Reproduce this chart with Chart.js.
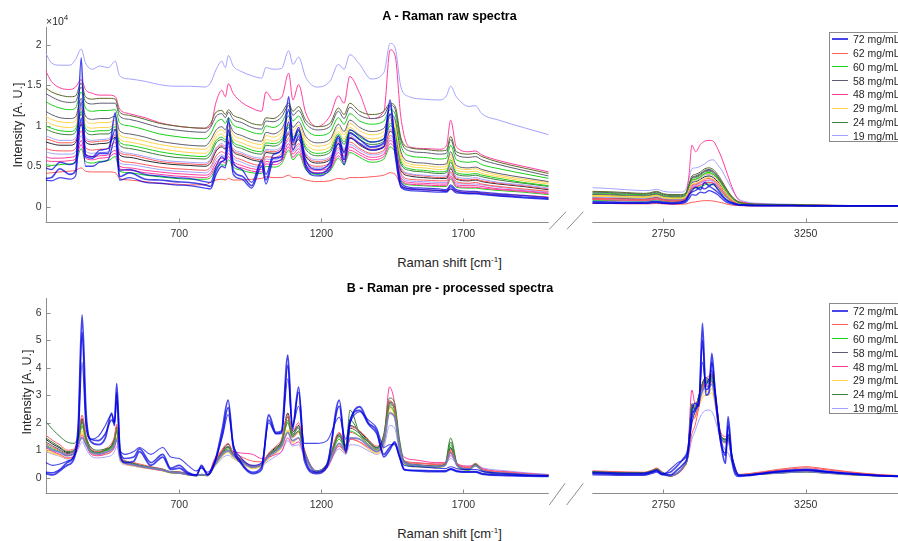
<!DOCTYPE html>
<html lang="en">
<head>
<meta charset="UTF-8">
<title>Raman spectra</title>
<script src="https://cdn.jsdelivr.net/npm/chart.js@4.4.1/dist/chart.umd.min.js"></script>
<style>
  html, body { margin: 0; padding: 0; background: #fff; }
  body { width: 898px; height: 541px; position: relative; overflow: hidden;
         font-family: "Liberation Sans", Arial, Helvetica, sans-serif; color: #262626; }
  canvas { position: absolute; }
  .lbl { position: absolute; white-space: nowrap; transform: translate(-50%, -50%); line-height: 1; }
  .title { font-weight: bold; font-size: 12.5px; color: #000; }
  .xlab { font-size: 13px; }
  .ylab { font-size: 12.5px; transform: translate(-50%, -50%) rotate(-90deg); }
  sup { font-size: 8px; vertical-align: 5px; line-height: 0; }
  .legend { position: absolute; left: 829px; width: 92px; background: #fff;
            border: 1px solid #8a8a8a; box-sizing: border-box; }
  .legend .ln { position: absolute; left: 2px; width: 16px; }
  .legend .tx { position: absolute; left: 23px; font-size: 10.5px; line-height: 12px; white-space: nowrap; }
</style>
</head>
<body>

<canvas id="rawLow" width="562" height="245" style="left:0;top:0"></canvas>
<canvas id="rawHigh" width="318" height="245" style="left:580px;top:0"></canvas>
<canvas id="procLow" width="562" height="245" style="left:0;top:270px"></canvas>
<canvas id="procHigh" width="318" height="245" style="left:580px;top:270px"></canvas>

<div class="lbl title" style="left:449.5px;top:16px">A - Raman raw spectra</div>
<div class="lbl" style="left:46px;top:14.5px;transform:none;font-size:10.5px;line-height:12px">&times;10<sup>4</sup></div>
<div class="lbl ylab" style="left:18px;top:124.5px">Intensity [A. U.]</div>
<div class="lbl xlab" style="left:449.5px;top:262px">Raman shift [cm<sup>-1</sup>]</div>

<div class="lbl title" style="left:450px;top:288px">B - Raman pre - processed spectra</div>
<div class="lbl ylab" style="left:27px;top:391.5px">Intensity [A. U.]</div>
<div class="lbl xlab" style="left:449.5px;top:533px">Raman shift [cm<sup>-1</sup>]</div>

<!-- axis break marks -->
<svg width="898" height="541" style="position:absolute;left:0;top:0;pointer-events:none">
  <g stroke="#8c8c8c" stroke-width="1" fill="none">
    <line x1="549.3" y1="229.3" x2="566" y2="211.7"/>
    <line x1="567" y1="229.3" x2="583.3" y2="211.7"/>
    <line x1="549.3" y1="505" x2="565" y2="483.3"/>
    <line x1="566.7" y1="505" x2="583.3" y2="483.3"/>
  </g>
</svg>

<div id="legendA" class="legend" style="top:31.7px;height:110px"></div>
<div id="legendB" class="legend" style="top:302.7px;height:111.3px"></div>

<script>
// concentration groups
const concLabels = ['72 mg/mL', '62 mg/mL', '60 mg/mL', '58 mg/mL', '48 mg/mL', '29 mg/mL', '24 mg/mL', '19 mg/mL'];
const concColors = ['rgba(0,0,225,0.72)', '#ff5c5c', '#19d019', '#5e5e72', '#ff3d9e', '#ffd24d', '#3f7f3f', '#a3a3ff'];
const concWidths = [2, 1, 1, 1, 1, 1, 1, 1];

// Raman shift grids [cm-1]
const shiftA1 = [230, 250, 280, 315, 335, 355, 370, 395, 420, 450, 475, 490, 525, 580, 630, 685, 735, 790, 810, 830,
  850, 862, 873, 890, 920, 955, 990, 1005, 1030, 1060, 1085, 1100, 1120, 1145, 1185, 1230, 1260, 1280, 1300, 1335,
  1375, 1420, 1442, 1460, 1480, 1510, 1560, 1615, 1640, 1655, 1675, 1720, 1742, 1765, 1825, 1910, 2000];
const shiftA2 = [2500, 2560, 2620, 2680, 2700, 2725, 2750, 2780, 2810, 2830, 2840, 2850, 2863, 2880, 2895, 2910,
  2925, 2940, 2955, 2970, 2990, 3010, 3040, 3100, 3200, 3300, 3400, 3500, 3575];
const shiftB1 = [230, 255, 280, 305, 330, 345, 358, 372, 390, 415, 440, 462, 472, 480, 492, 510, 540, 560, 600, 642,
  670, 700, 730, 760, 778, 800, 825, 852, 872, 890, 915, 958, 990, 1015, 1040, 1060, 1082, 1098, 1120, 1140,
  1182, 1220, 1263, 1286, 1301, 1335, 1365, 1395, 1420, 1440, 1458, 1475, 1492, 1530, 1600, 1635, 1655, 1680, 1720, 1742,
  1770, 1850, 1930, 2000];
const shiftB2 = [2500, 2560, 2620, 2680, 2710, 2726, 2745, 2773, 2800, 2820, 2835, 2850, 2861, 2875, 2887, 2899,
  2910, 2920, 2932, 2950, 2968, 2977, 2991, 3015, 3050, 3100, 3150, 3200, 3253, 3300, 3400, 3500, 3575];

// tick marks
const rawYTicks = [0, 0.5, 1, 1.5, 2];
const procYTicks = [0, 1, 2, 3, 4, 5, 6];
const lowXTicks = [700, 1200, 1700];
const highXTicks = [2750, 3250];

// raw intensities (x 10^4), low range
const rawBlueALo = [0.35, 0.36, 0.47, 0.40, 0.44, 1.84, 0.62, 0.60, 0.66, 0.66, 1.16, 0.37, 0.42, 0.34, 0.33, 0.31, 0.30, 0.27, 0.25, 0.45,
  0.56, 0.60, 1.10, 0.45, 0.38, 0.26, 0.55, 0.33, 0.60, 0.62, 1.36, 0.80, 0.95, 0.52, 0.41, 0.50, 0.85, 0.58, 0.91, 0.83,
  0.74, 0.79, 1.32, 0.70, 0.26, 0.22, 0.21, 0.20, 0.19, 0.25, 0.19, 0.17, 0.17, 0.16, 0.14, 0.12, 0.10];
const rawBlueBLo = [0.48, 0.46, 0.55, 0.52, 0.56, 1.30, 0.65, 0.62, 0.70, 0.72, 0.95, 0.45, 0.46, 0.40, 0.38, 0.36, 0.35, 0.31, 0.30, 0.50,
  0.62, 0.58, 0.95, 0.55, 0.46, 0.30, 0.58, 0.40, 0.64, 0.70, 1.20, 0.82, 0.98, 0.58, 0.46, 0.55, 0.88, 0.66, 0.95, 0.88,
  0.80, 0.84, 1.25, 0.78, 0.30, 0.24, 0.23, 0.22, 0.21, 0.27, 0.21, 0.19, 0.19, 0.18, 0.16, 0.14, 0.11];
const rawBlueCLo = [0.33, 0.32, 0.36, 0.34, 0.38, 1.10, 0.50, 0.50, 0.55, 0.58, 0.85, 0.33, 0.36, 0.30, 0.29, 0.27, 0.26, 0.23, 0.22, 0.40,
  0.50, 0.48, 0.80, 0.40, 0.34, 0.23, 0.50, 0.28, 0.55, 0.58, 1.05, 0.70, 0.88, 0.48, 0.38, 0.46, 0.78, 0.52, 0.85, 0.78,
  0.70, 0.74, 1.15, 0.62, 0.24, 0.20, 0.19, 0.18, 0.18, 0.22, 0.17, 0.16, 0.16, 0.15, 0.13, 0.11, 0.09];
const rawOliveLo = [1.47, 1.42, 1.38, 1.36, 1.37, 1.53, 1.36, 1.33, 1.34, 1.34, 1.33, 1.17, 1.13, 1.08, 1.03, 1.00, 0.98, 0.97, 1.03, 1.17,
  1.19, 1.14, 1.20, 1.13, 1.09, 1.03, 1.01, 1.10, 1.09, 1.16, 1.28, 1.18, 1.24, 1.07, 0.99, 1.03, 1.22, 1.14, 1.28, 1.18,
  1.14, 1.18, 1.28, 1.24, 0.85, 0.73, 0.71, 0.69, 0.70, 0.87, 0.68, 0.65, 0.66, 0.62, 0.55, 0.48, 0.41];
const rawSlateLo = [1.40, 1.36, 1.31, 1.29, 1.30, 1.48, 1.30, 1.27, 1.28, 1.28, 1.28, 1.12, 1.08, 1.03, 0.98, 0.95, 0.93, 0.92, 0.98, 1.12,
  1.15, 1.10, 1.17, 1.08, 1.04, 0.98, 0.96, 1.06, 1.05, 1.11, 1.25, 1.13, 1.19, 1.03, 0.95, 0.99, 1.18, 1.09, 1.23, 1.13,
  1.09, 1.13, 1.26, 1.20, 0.82, 0.69, 0.67, 0.65, 0.66, 0.83, 0.64, 0.61, 0.62, 0.58, 0.52, 0.45, 0.38];
const rawGreenLo = [1.30, 1.26, 1.22, 1.20, 1.22, 1.42, 1.22, 1.18, 1.19, 1.19, 1.20, 1.04, 1.00, 0.95, 0.90, 0.87, 0.85, 0.84, 0.90, 1.04,
  1.08, 1.03, 1.10, 1.01, 0.97, 0.92, 0.90, 1.00, 0.98, 1.04, 1.18, 1.06, 1.12, 0.96, 0.88, 0.92, 1.10, 1.02, 1.15, 1.06,
  1.02, 1.06, 1.20, 1.14, 0.76, 0.63, 0.61, 0.59, 0.60, 0.76, 0.58, 0.55, 0.56, 0.52, 0.47, 0.41, 0.35];
const rawGrayLo = [1.18, 1.14, 1.10, 1.09, 1.11, 1.34, 1.12, 1.08, 1.09, 1.09, 1.12, 0.94, 0.90, 0.86, 0.81, 0.78, 0.76, 0.75, 0.82, 0.95,
  0.99, 0.95, 1.04, 0.93, 0.88, 0.83, 0.81, 0.92, 0.90, 0.96, 1.12, 0.98, 1.05, 0.87, 0.79, 0.83, 1.02, 0.93, 1.07, 0.98,
  0.93, 0.97, 1.14, 1.07, 0.68, 0.56, 0.54, 0.52, 0.53, 0.68, 0.51, 0.48, 0.49, 0.46, 0.41, 0.36, 0.31];
const rawGold2Lo = [1.12, 1.08, 1.05, 1.04, 1.06, 1.28, 1.07, 1.03, 1.04, 1.04, 1.07, 0.89, 0.85, 0.81, 0.77, 0.74, 0.72, 0.71, 0.77, 0.91,
  0.95, 0.91, 1.00, 0.89, 0.84, 0.79, 0.77, 0.88, 0.86, 0.92, 1.08, 0.94, 1.01, 0.83, 0.75, 0.79, 0.98, 0.89, 1.03, 0.94,
  0.89, 0.93, 1.10, 1.03, 0.64, 0.53, 0.51, 0.49, 0.50, 0.65, 0.48, 0.46, 0.47, 0.44, 0.39, 0.34, 0.30];
const rawYellowLo = [1.06, 1.02, 0.99, 0.98, 1.00, 1.22, 1.01, 0.97, 0.98, 0.98, 1.02, 0.84, 0.80, 0.76, 0.72, 0.69, 0.67, 0.66, 0.72, 0.86,
  0.90, 0.86, 0.95, 0.84, 0.79, 0.74, 0.72, 0.83, 0.81, 0.87, 1.04, 0.89, 0.96, 0.78, 0.70, 0.74, 0.93, 0.84, 0.98, 0.89,
  0.84, 0.88, 1.06, 0.98, 0.60, 0.50, 0.48, 0.46, 0.47, 0.61, 0.45, 0.43, 0.44, 0.41, 0.37, 0.32, 0.28];
const rawLime2Lo = [1.00, 0.97, 0.94, 0.93, 0.96, 1.18, 0.97, 0.93, 0.94, 0.94, 0.99, 0.80, 0.76, 0.72, 0.68, 0.65, 0.63, 0.62, 0.68, 0.82,
  0.86, 0.83, 0.92, 0.80, 0.75, 0.70, 0.68, 0.79, 0.78, 0.83, 1.01, 0.86, 0.93, 0.74, 0.66, 0.70, 0.90, 0.80, 0.95, 0.86,
  0.80, 0.84, 1.03, 0.94, 0.56, 0.47, 0.45, 0.43, 0.44, 0.58, 0.42, 0.40, 0.41, 0.39, 0.35, 0.30, 0.26];
const rawDkGreenLo = [0.96, 0.93, 0.90, 0.89, 0.92, 1.15, 0.93, 0.89, 0.90, 0.90, 0.96, 0.76, 0.72, 0.68, 0.64, 0.61, 0.60, 0.59, 0.64, 0.79,
  0.83, 0.80, 0.89, 0.77, 0.72, 0.67, 0.65, 0.76, 0.75, 0.80, 0.98, 0.83, 0.90, 0.71, 0.63, 0.67, 0.87, 0.77, 0.92, 0.83,
  0.77, 0.81, 1.00, 0.91, 0.53, 0.45, 0.43, 0.41, 0.42, 0.55, 0.40, 0.38, 0.39, 0.37, 0.33, 0.29, 0.25];
const rawLavLo = [0.88, 0.85, 0.82, 0.82, 0.85, 1.08, 0.86, 0.82, 0.83, 0.84, 0.90, 0.70, 0.66, 0.62, 0.58, 0.56, 0.55, 0.54, 0.59, 0.73,
  0.78, 0.75, 0.84, 0.72, 0.67, 0.62, 0.60, 0.71, 0.70, 0.75, 0.93, 0.79, 0.86, 0.66, 0.58, 0.62, 0.82, 0.72, 0.88, 0.79,
  0.73, 0.77, 0.96, 0.87, 0.49, 0.41, 0.39, 0.38, 0.38, 0.51, 0.37, 0.35, 0.36, 0.34, 0.30, 0.27, 0.23];
const rawCoralLo = [0.84, 0.82, 0.79, 0.79, 0.82, 1.05, 0.83, 0.80, 0.81, 0.82, 0.88, 0.67, 0.64, 0.60, 0.56, 0.54, 0.53, 0.52, 0.57, 0.71,
  0.76, 0.73, 0.82, 0.70, 0.65, 0.60, 0.58, 0.69, 0.68, 0.73, 0.92, 0.78, 0.85, 0.64, 0.56, 0.60, 0.80, 0.70, 0.86, 0.77,
  0.71, 0.75, 0.94, 0.85, 0.47, 0.40, 0.38, 0.36, 0.37, 0.49, 0.35, 0.33, 0.34, 0.32, 0.29, 0.26, 0.22];
const rawBlackLo = [0.80, 0.78, 0.76, 0.76, 0.79, 1.02, 0.80, 0.77, 0.78, 0.79, 0.86, 0.64, 0.61, 0.57, 0.54, 0.52, 0.51, 0.50, 0.54, 0.69,
  0.74, 0.71, 0.80, 0.68, 0.63, 0.58, 0.56, 0.67, 0.66, 0.71, 0.90, 0.76, 0.83, 0.62, 0.54, 0.58, 0.78, 0.68, 0.85, 0.76,
  0.70, 0.74, 0.93, 0.84, 0.45, 0.38, 0.36, 0.35, 0.35, 0.47, 0.34, 0.32, 0.33, 0.31, 0.28, 0.25, 0.21];
const rawRedLo = [0.72, 0.70, 0.69, 0.69, 0.72, 0.94, 0.73, 0.70, 0.71, 0.72, 0.80, 0.58, 0.55, 0.52, 0.49, 0.47, 0.46, 0.45, 0.49, 0.63,
  0.68, 0.66, 0.74, 0.63, 0.58, 0.53, 0.51, 0.62, 0.61, 0.66, 0.85, 0.71, 0.78, 0.57, 0.50, 0.54, 0.73, 0.63, 0.80, 0.72,
  0.66, 0.70, 0.88, 0.79, 0.41, 0.34, 0.33, 0.32, 0.32, 0.43, 0.31, 0.29, 0.30, 0.28, 0.25, 0.22, 0.19];
const rawLav2Lo = [0.68, 0.66, 0.65, 0.65, 0.68, 0.88, 0.69, 0.66, 0.67, 0.68, 0.75, 0.54, 0.52, 0.49, 0.46, 0.44, 0.43, 0.42, 0.46, 0.59,
  0.64, 0.62, 0.70, 0.60, 0.55, 0.50, 0.49, 0.59, 0.58, 0.63, 0.82, 0.68, 0.75, 0.55, 0.48, 0.52, 0.70, 0.61, 0.77, 0.70,
  0.64, 0.68, 0.85, 0.76, 0.39, 0.32, 0.31, 0.30, 0.30, 0.41, 0.29, 0.28, 0.28, 0.27, 0.24, 0.21, 0.18];
const rawPinkLo = [0.62, 0.60, 0.60, 0.61, 0.63, 0.82, 0.64, 0.62, 0.63, 0.64, 0.70, 0.50, 0.48, 0.45, 0.43, 0.41, 0.40, 0.39, 0.42, 0.55,
  0.60, 0.58, 0.66, 0.56, 0.51, 0.47, 0.46, 0.56, 0.55, 0.60, 0.78, 0.65, 0.72, 0.52, 0.45, 0.49, 0.67, 0.58, 0.74, 0.67,
  0.61, 0.65, 0.82, 0.73, 0.36, 0.30, 0.29, 0.28, 0.28, 0.38, 0.27, 0.26, 0.26, 0.25, 0.22, 0.20, 0.17];
const rawRose2Lo = [0.57, 0.56, 0.56, 0.57, 0.59, 0.77, 0.60, 0.58, 0.60, 0.61, 0.66, 0.47, 0.45, 0.42, 0.40, 0.38, 0.37, 0.36, 0.39, 0.51,
  0.56, 0.54, 0.62, 0.52, 0.48, 0.44, 0.43, 0.53, 0.52, 0.56, 0.74, 0.61, 0.68, 0.49, 0.42, 0.46, 0.63, 0.55, 0.70, 0.64,
  0.58, 0.62, 0.78, 0.69, 0.34, 0.28, 0.27, 0.26, 0.26, 0.36, 0.25, 0.24, 0.24, 0.23, 0.21, 0.19, 0.16];
const rawGreen2Lo = [0.52, 0.51, 0.52, 0.53, 0.55, 0.72, 0.56, 0.54, 0.56, 0.57, 0.62, 0.44, 0.42, 0.39, 0.37, 0.35, 0.34, 0.34, 0.36, 0.48,
  0.52, 0.51, 0.58, 0.49, 0.45, 0.42, 0.41, 0.50, 0.49, 0.53, 0.70, 0.58, 0.65, 0.46, 0.40, 0.44, 0.60, 0.52, 0.67, 0.61,
  0.55, 0.59, 0.74, 0.66, 0.32, 0.27, 0.26, 0.25, 0.25, 0.34, 0.24, 0.23, 0.23, 0.22, 0.20, 0.18, 0.15];
const rawRedBottomLo = [0.41, 0.42, 0.43, 0.44, 0.45, 0.48, 0.44, 0.43, 0.43, 0.43, 0.42, 0.35, 0.33, 0.31, 0.29, 0.28, 0.27, 0.27, 0.30, 0.33,
  0.34, 0.33, 0.35, 0.33, 0.33, 0.34, 0.35, 0.37, 0.36, 0.36, 0.39, 0.36, 0.36, 0.33, 0.31, 0.32, 0.35, 0.34, 0.36, 0.36,
  0.37, 0.39, 0.42, 0.40, 0.27, 0.22, 0.21, 0.20, 0.20, 0.22, 0.19, 0.18, 0.18, 0.17, 0.15, 0.14, 0.12];
const rawPinkTopLo = [1.68, 1.55, 1.47, 1.45, 1.48, 1.57, 1.45, 1.40, 1.38, 1.38, 1.36, 1.21, 1.15, 1.10, 1.04, 1.00, 0.98, 0.97, 1.00, 1.30,
  1.44, 1.36, 1.52, 1.40, 1.29, 1.22, 1.18, 1.42, 1.32, 1.35, 1.65, 1.32, 1.51, 1.16, 0.99, 1.12, 1.37, 1.28, 1.61, 1.40,
  1.09, 1.18, 1.94, 1.86, 1.10, 0.74, 0.72, 0.71, 0.75, 1.07, 0.74, 0.68, 0.69, 0.64, 0.57, 0.50, 0.43];
const rawLavTopLo = [1.90, 1.78, 1.75, 1.75, 1.82, 1.95, 1.78, 1.70, 1.74, 1.72, 1.80, 1.62, 1.58, 1.55, 1.51, 1.49, 1.49, 1.48, 1.53, 1.70,
  1.80, 1.72, 1.87, 1.74, 1.67, 1.62, 1.59, 1.72, 1.70, 1.71, 1.93, 1.76, 1.85, 1.60, 1.48, 1.55, 1.76, 1.70, 1.88, 1.76,
  1.58, 1.66, 2.02, 1.96, 1.48, 1.36, 1.33, 1.32, 1.37, 1.49, 1.36, 1.24, 1.25, 1.15, 1.07, 0.98, 0.89];

// raw intensities (x 10^4), high range
const rawBlueAHi = [0.05, 0.05, 0.045, 0.045, 0.05, 0.06, 0.045, 0.04, 0.05, 0.08, 0.14, 0.20, 0.24, 0.21, 0.30, 0.26, 0.28, 0.22, 0.15, 0.09, 0.05, 0.03, 0.02, 0.015, 0.015, 0.01, 0.01, 0.01, 0.01];
const rawBlueBHi = [0.065, 0.06, 0.055, 0.055, 0.06, 0.07, 0.055, 0.05, 0.06, 0.09, 0.15, 0.18, 0.20, 0.24, 0.22, 0.25, 0.22, 0.18, 0.13, 0.08, 0.05, 0.03, 0.02, 0.015, 0.015, 0.01, 0.01, 0.01, 0.01];
const rawBlueCHi = [0.045, 0.04, 0.04, 0.04, 0.045, 0.05, 0.04, 0.035, 0.04, 0.06, 0.10, 0.15, 0.14, 0.18, 0.17, 0.20, 0.18, 0.15, 0.10, 0.06, 0.035, 0.02, 0.015, 0.01, 0.01, 0.01, 0.01, 0.01, 0.01];
const rawOliveHi = [0.19, 0.185, 0.175, 0.165, 0.17, 0.19, 0.16, 0.15, 0.15, 0.18, 0.28, 0.38, 0.40, 0.43, 0.47, 0.48, 0.46, 0.40, 0.32, 0.23, 0.13, 0.07, 0.04, 0.03, 0.025, 0.02, 0.015, 0.01, 0.01];
const rawSlateHi = [0.18, 0.175, 0.165, 0.158, 0.162, 0.18, 0.152, 0.142, 0.142, 0.17, 0.27, 0.36, 0.38, 0.41, 0.45, 0.46, 0.44, 0.38, 0.30, 0.22, 0.12, 0.065, 0.038, 0.028, 0.022, 0.017, 0.012, 0.01, 0.01];
const rawGreenHi = [0.17, 0.165, 0.155, 0.15, 0.155, 0.17, 0.145, 0.135, 0.135, 0.16, 0.25, 0.33, 0.34, 0.37, 0.41, 0.42, 0.40, 0.35, 0.28, 0.20, 0.11, 0.06, 0.035, 0.025, 0.02, 0.015, 0.01, 0.01, 0.01];
const rawGrayHi = [0.16, 0.155, 0.145, 0.14, 0.145, 0.16, 0.135, 0.125, 0.125, 0.16, 0.27, 0.36, 0.37, 0.40, 0.44, 0.45, 0.43, 0.37, 0.29, 0.20, 0.11, 0.06, 0.035, 0.025, 0.02, 0.015, 0.01, 0.01, 0.01];
const rawGold2Hi = [0.14, 0.135, 0.128, 0.122, 0.128, 0.142, 0.118, 0.108, 0.108, 0.14, 0.24, 0.32, 0.33, 0.36, 0.40, 0.41, 0.39, 0.34, 0.26, 0.18, 0.10, 0.055, 0.032, 0.022, 0.017, 0.012, 0.01, 0.01, 0.01];
const rawYellowHi = [0.13, 0.125, 0.12, 0.115, 0.12, 0.135, 0.11, 0.10, 0.10, 0.13, 0.21, 0.28, 0.29, 0.32, 0.35, 0.36, 0.34, 0.30, 0.23, 0.16, 0.09, 0.05, 0.03, 0.02, 0.015, 0.01, 0.01, 0.01, 0.01];
const rawLime2Hi = [0.135, 0.13, 0.122, 0.118, 0.122, 0.138, 0.112, 0.104, 0.104, 0.14, 0.25, 0.33, 0.34, 0.37, 0.41, 0.42, 0.40, 0.35, 0.27, 0.18, 0.10, 0.052, 0.03, 0.02, 0.015, 0.01, 0.01, 0.01, 0.01];
const rawDkGreenHi = [0.15, 0.145, 0.135, 0.13, 0.135, 0.15, 0.125, 0.115, 0.115, 0.15, 0.26, 0.35, 0.36, 0.39, 0.43, 0.44, 0.42, 0.36, 0.28, 0.19, 0.10, 0.055, 0.03, 0.02, 0.015, 0.01, 0.01, 0.01, 0.01];
const rawLavHi = [0.12, 0.115, 0.11, 0.105, 0.11, 0.125, 0.10, 0.095, 0.095, 0.13, 0.23, 0.31, 0.32, 0.35, 0.39, 0.40, 0.38, 0.33, 0.26, 0.18, 0.10, 0.05, 0.03, 0.02, 0.015, 0.01, 0.01, 0.01, 0.01];
const rawCoralHi = [0.105, 0.10, 0.095, 0.09, 0.095, 0.11, 0.088, 0.08, 0.08, 0.115, 0.20, 0.27, 0.28, 0.31, 0.34, 0.35, 0.33, 0.29, 0.22, 0.15, 0.085, 0.045, 0.028, 0.02, 0.015, 0.01, 0.01, 0.01, 0.01];
const rawBlackHi = [0.11, 0.105, 0.10, 0.095, 0.10, 0.115, 0.09, 0.085, 0.085, 0.12, 0.22, 0.30, 0.31, 0.34, 0.37, 0.38, 0.36, 0.31, 0.24, 0.16, 0.09, 0.05, 0.03, 0.02, 0.015, 0.01, 0.01, 0.01, 0.01];
const rawRedHi = [0.09, 0.085, 0.08, 0.078, 0.08, 0.095, 0.075, 0.07, 0.07, 0.10, 0.17, 0.23, 0.24, 0.27, 0.29, 0.30, 0.29, 0.25, 0.19, 0.13, 0.07, 0.04, 0.025, 0.02, 0.015, 0.01, 0.01, 0.01, 0.01];
const rawLav2Hi = [0.095, 0.09, 0.085, 0.083, 0.085, 0.10, 0.08, 0.075, 0.075, 0.105, 0.18, 0.25, 0.26, 0.29, 0.31, 0.32, 0.31, 0.26, 0.20, 0.14, 0.075, 0.042, 0.027, 0.02, 0.015, 0.01, 0.01, 0.01, 0.01];
const rawPinkHi = [0.10, 0.095, 0.09, 0.088, 0.09, 0.105, 0.085, 0.08, 0.08, 0.11, 0.19, 0.26, 0.27, 0.30, 0.32, 0.33, 0.32, 0.27, 0.21, 0.14, 0.08, 0.045, 0.03, 0.02, 0.015, 0.01, 0.01, 0.01, 0.01];
const rawRose2Hi = [0.09, 0.086, 0.081, 0.079, 0.081, 0.095, 0.076, 0.071, 0.071, 0.10, 0.17, 0.24, 0.25, 0.27, 0.29, 0.30, 0.29, 0.25, 0.19, 0.13, 0.072, 0.04, 0.026, 0.019, 0.014, 0.01, 0.01, 0.01, 0.01];
const rawGreen2Hi = [0.08, 0.077, 0.073, 0.07, 0.073, 0.085, 0.068, 0.063, 0.063, 0.09, 0.16, 0.22, 0.23, 0.25, 0.27, 0.28, 0.27, 0.23, 0.18, 0.12, 0.065, 0.035, 0.022, 0.018, 0.013, 0.01, 0.01, 0.01, 0.01];
const rawRedBottomHi = [0.04, 0.04, 0.035, 0.035, 0.035, 0.04, 0.035, 0.03, 0.03, 0.035, 0.045, 0.055, 0.06, 0.07, 0.075, 0.075, 0.07, 0.06, 0.05, 0.035, 0.02, 0.015, 0.01, 0.01, 0.01, 0.005, 0.005, 0.005, 0.005];
const rawPinkTopHi = [0.15, 0.14, 0.13, 0.125, 0.13, 0.16, 0.12, 0.10, 0.10, 0.16, 0.40, 0.76, 0.68, 0.77, 0.81, 0.82, 0.81, 0.72, 0.60, 0.45, 0.25, 0.10, 0.05, 0.03, 0.02, 0.02, 0.01, 0.01, 0.01];
const rawLavTopHi = [0.235, 0.225, 0.21, 0.20, 0.20, 0.215, 0.19, 0.18, 0.18, 0.22, 0.35, 0.47, 0.48, 0.50, 0.53, 0.57, 0.58, 0.52, 0.45, 0.35, 0.22, 0.11, 0.06, 0.04, 0.03, 0.02, 0.015, 0.01, 0.01];

// pre-processed intensities, low range
const procBlueALo = [0.15, 0.10, 0.25, 0.45, 0.70, 2.00, 5.92, 2.35, 1.30, 1.20, 1.45, 2.35, 1.90, 3.42, 0.85, 0.55, 0.60, 0.95, 0.45, 0.75,
  0.30, 0.35, 0.15, 0.08, 0.45, 0.10, 0.55, 1.80, 2.82, 1.10, 0.55, 0.15, 0.30, 2.28, 1.65, 1.70, 4.46, 1.73, 3.29, 0.64,
  0.15, 0.40, 2.82, 0.90, 2.00, 2.58, 2.00, 1.70, 0.76, 1.00, 1.30, 0.80, 0.30, 0.25, 0.22, 0.22, 0.30, 0.22, 0.20, 0.20,
  0.12, 0.08, 0.06, 0.05];
const procBlueBLo = [0.20, 0.18, 0.30, 0.55, 0.80, 1.80, 5.30, 2.10, 1.40, 1.35, 1.60, 2.10, 2.00, 3.10, 0.95, 0.70, 0.75, 1.05, 0.55, 0.85,
  0.35, 0.45, 0.20, 0.10, 0.40, 0.12, 0.60, 1.60, 2.55, 1.20, 0.60, 0.20, 0.40, 2.10, 1.60, 1.65, 4.10, 1.85, 3.10, 0.80,
  0.20, 0.50, 2.60, 1.00, 2.10, 2.45, 1.95, 1.60, 0.85, 1.10, 1.25, 0.75, 0.28, 0.27, 0.25, 0.25, 0.32, 0.24, 0.22, 0.22,
  0.14, 0.10, 0.07, 0.06];
const procBlueCLo = [0.55, 0.45, 0.50, 0.60, 0.80, 1.50, 4.20, 1.80, 1.40, 1.50, 1.90, 2.30, 2.00, 2.80, 1.00, 0.85, 0.95, 1.10, 0.85, 1.10,
  0.75, 0.70, 0.45, 0.25, 0.35, 0.20, 0.55, 1.50, 2.30, 1.20, 0.75, 0.45, 0.55, 2.00, 1.60, 1.60, 3.60, 1.90, 2.60, 1.25,
  1.25, 1.35, 2.20, 1.40, 2.00, 2.40, 2.10, 1.80, 1.10, 1.20, 1.20, 0.75, 0.45, 0.40, 0.35, 0.33, 0.40, 0.32, 0.30, 0.30,
  0.22, 0.15, 0.10, 0.08];
const procDkGreenLo = [2.04, 1.75, 1.50, 1.30, 1.25, 1.50, 2.00, 1.45, 1.10, 1.00, 1.05, 1.15, 1.35, 1.70, 0.80, 0.60, 0.52, 0.46, 0.38, 0.30,
  0.22, 0.20, 0.14, 0.10, 0.12, 0.10, 0.55, 0.90, 1.10, 0.85, 0.65, 0.40, 0.48, 0.80, 1.00, 1.25, 2.10, 1.50, 1.70, 0.95,
  0.25, 0.50, 1.50, 1.15, 2.46, 1.60, 1.30, 1.10, 1.60, 2.90, 2.70, 1.40, 0.60, 0.48, 0.42, 0.50, 1.44, 0.45, 0.32, 0.50,
  0.25, 0.16, 0.10, 0.08];
const procDkGreen2Lo = [1.45, 1.28, 1.12, 0.95, 1.00, 1.42, 2.10, 1.42, 1.00, 0.93, 1.00, 1.15, 1.42, 1.85, 0.80, 0.58, 0.50, 0.44, 0.37, 0.29,
  0.20, 0.19, 0.12, 0.08, 0.10, 0.08, 0.50, 0.92, 1.12, 0.84, 0.64, 0.39, 0.49, 0.84, 1.05, 1.32, 2.25, 1.58, 1.85, 0.98,
  0.22, 0.46, 1.55, 1.15, 2.10, 1.62, 1.32, 1.08, 1.50, 2.65, 2.50, 1.25, 0.57, 0.46, 0.41, 0.48, 1.30, 0.43, 0.31, 0.48,
  0.24, 0.15, 0.10, 0.08];
const procRedLo = [1.55, 1.35, 1.20, 1.00, 1.05, 1.55, 2.28, 1.55, 1.05, 0.95, 1.05, 1.25, 1.50, 1.95, 0.85, 0.62, 0.55, 0.50, 0.40, 0.32,
  0.22, 0.22, 0.14, 0.09, 0.12, 0.09, 0.60, 1.05, 1.25, 0.90, 0.70, 0.42, 0.52, 0.90, 1.15, 1.40, 2.30, 1.70, 2.00, 1.05,
  0.25, 0.50, 1.65, 1.20, 1.85, 1.70, 1.40, 1.15, 1.55, 2.80, 2.50, 1.20, 0.60, 0.52, 0.48, 0.52, 1.00, 0.48, 0.38, 0.52,
  0.30, 0.20, 0.13, 0.10];
const procRed2Lo = [1.25, 1.10, 0.98, 0.84, 0.92, 1.30, 1.85, 1.32, 0.95, 0.88, 0.95, 1.08, 1.30, 1.65, 0.74, 0.55, 0.48, 0.43, 0.36, 0.28,
  0.20, 0.19, 0.12, 0.09, 0.11, 0.09, 0.55, 1.00, 1.10, 0.92, 0.78, 0.60, 0.58, 0.82, 1.00, 1.22, 2.00, 1.45, 1.65, 0.92,
  0.22, 0.44, 1.40, 1.05, 1.65, 1.50, 1.22, 1.02, 1.40, 2.55, 2.35, 1.12, 0.62, 0.55, 0.50, 0.50, 0.95, 0.46, 0.36, 0.48,
  0.28, 0.19, 0.13, 0.09];
const procGreenLo = [1.20, 1.05, 0.95, 0.80, 0.90, 1.35, 1.90, 1.35, 0.95, 0.90, 0.98, 1.10, 1.35, 1.75, 0.75, 0.55, 0.47, 0.42, 0.35, 0.27,
  0.18, 0.17, 0.11, 0.07, 0.09, 0.07, 0.45, 0.85, 1.05, 0.80, 0.62, 0.38, 0.48, 0.80, 1.00, 1.25, 2.00, 1.50, 1.70, 0.90,
  0.20, 0.42, 1.40, 1.05, 1.70, 1.50, 1.20, 1.00, 1.35, 2.60, 2.30, 1.05, 0.52, 0.42, 0.38, 0.45, 1.20, 0.40, 0.28, 0.45,
  0.22, 0.14, 0.09, 0.07];
const procGrayLo = [1.30, 1.15, 1.02, 0.88, 0.95, 1.40, 2.05, 1.40, 0.98, 0.92, 1.00, 1.12, 1.38, 1.80, 0.78, 0.57, 0.50, 0.44, 0.37, 0.29,
  0.20, 0.19, 0.12, 0.08, 0.10, 0.08, 0.50, 0.95, 1.15, 0.85, 0.66, 0.40, 0.50, 0.85, 1.05, 1.30, 2.20, 1.55, 1.80, 0.95,
  0.22, 0.45, 1.50, 1.10, 1.80, 1.60, 1.28, 1.05, 1.45, 2.70, 2.45, 1.15, 0.55, 0.45, 0.40, 0.46, 1.05, 0.42, 0.30, 0.47,
  0.23, 0.15, 0.10, 0.08];
const procPinkLo = [1.10, 0.95, 0.85, 0.72, 0.80, 1.15, 1.55, 1.20, 0.85, 0.80, 0.85, 0.95, 1.10, 1.35, 0.70, 0.52, 0.45, 0.40, 0.33, 0.25,
  0.18, 0.16, 0.10, 0.08, 0.10, 0.10, 0.70, 0.95, 1.00, 0.95, 0.90, 0.85, 0.70, 0.75, 0.85, 0.95, 1.45, 1.20, 1.30, 0.80,
  0.18, 0.35, 1.15, 0.95, 1.40, 1.30, 1.10, 0.95, 1.40, 3.30, 2.70, 1.20, 0.75, 0.65, 0.55, 0.55, 0.80, 0.50, 0.42, 0.48,
  0.32, 0.22, 0.15, 0.10];
const procYellowLo = [1.05, 0.92, 0.82, 0.70, 0.78, 1.20, 1.70, 1.25, 0.88, 0.82, 0.88, 1.00, 1.20, 1.50, 0.68, 0.50, 0.44, 0.39, 0.32, 0.25,
  0.17, 0.16, 0.10, 0.07, 0.09, 0.07, 0.42, 0.80, 0.95, 0.72, 0.55, 0.33, 0.42, 0.70, 0.90, 1.10, 1.75, 1.30, 1.45, 0.80,
  0.20, 0.38, 1.20, 0.90, 1.45, 1.30, 1.05, 0.88, 1.20, 2.40, 2.15, 1.00, 0.50, 0.40, 0.36, 0.42, 0.95, 0.38, 0.27, 0.42,
  0.21, 0.14, 0.09, 0.07];
const procYellow2Lo = [0.98, 0.88, 0.80, 0.70, 0.78, 1.18, 1.62, 1.22, 0.86, 0.80, 0.86, 0.96, 1.15, 1.42, 0.66, 0.49, 0.43, 0.38, 0.32, 0.25,
  0.17, 0.16, 0.10, 0.07, 0.09, 0.07, 0.42, 0.78, 0.92, 0.72, 0.56, 0.35, 0.44, 0.72, 0.90, 1.08, 1.70, 1.28, 1.42, 0.80,
  0.20, 0.38, 1.15, 0.90, 1.40, 1.28, 1.05, 0.90, 1.25, 2.50, 2.25, 1.05, 0.52, 0.42, 0.38, 0.43, 0.90, 0.40, 0.29, 0.43,
  0.22, 0.15, 0.10, 0.07];
const procBlackLo = [1.40, 1.22, 1.08, 0.92, 0.98, 1.45, 2.15, 1.45, 1.00, 0.94, 1.02, 1.18, 1.45, 1.85, 0.80, 0.58, 0.51, 0.45, 0.38, 0.30,
  0.21, 0.20, 0.13, 0.09, 0.11, 0.09, 0.52, 1.00, 1.22, 0.88, 0.68, 0.42, 0.52, 0.88, 1.10, 1.35, 2.35, 1.65, 1.90, 1.00,
  0.24, 0.47, 1.60, 1.18, 1.90, 1.68, 1.35, 1.10, 1.50, 2.75, 2.55, 1.20, 0.57, 0.47, 0.42, 0.48, 1.10, 0.44, 0.32, 0.49,
  0.24, 0.16, 0.11, 0.08];
const procSlateLo = [1.15, 1.00, 0.92, 0.80, 0.88, 1.25, 1.45, 1.20, 0.92, 0.86, 0.92, 1.02, 1.18, 1.40, 0.72, 0.54, 0.47, 0.42, 0.35, 0.28,
  0.20, 0.18, 0.12, 0.09, 0.11, 0.09, 0.48, 0.85, 0.98, 0.80, 0.62, 0.38, 0.48, 0.78, 0.95, 1.15, 1.65, 1.35, 1.45, 0.88,
  0.22, 0.42, 1.25, 1.00, 1.45, 1.40, 1.15, 0.95, 1.30, 2.35, 2.20, 1.10, 0.55, 0.46, 0.40, 0.45, 0.90, 0.42, 0.31, 0.44,
  0.24, 0.16, 0.11, 0.08];
const procLavLo = [0.95, 0.85, 0.78, 0.68, 0.75, 1.05, 1.30, 1.05, 0.78, 0.72, 0.75, 0.82, 0.95, 1.15, 0.60, 0.47, 0.42, 0.38, 0.32, 0.26,
  0.20, 0.18, 0.13, 0.10, 0.12, 0.10, 0.40, 0.72, 0.82, 0.70, 0.55, 0.36, 0.42, 0.62, 0.78, 0.95, 1.35, 1.15, 1.20, 0.75,
  0.25, 0.40, 1.05, 0.85, 1.20, 1.15, 0.98, 0.85, 1.10, 1.90, 1.80, 0.95, 0.60, 0.55, 0.50, 0.50, 0.70, 0.48, 0.42, 0.45,
  0.35, 0.25, 0.17, 0.12];

// pre-processed intensities, high range
const procBlueAHi = [0.15, 0.14, 0.12, 0.12, 0.20, 0.25, 0.12, 0.10, 0.30, 0.50, 0.80, 2.40, 2.70, 2.60, 5.61, 3.00, 3.10, 4.52, 3.00, 1.40, 0.52, 2.22, 0.60, 0.05, 0.08, 0.15, 0.22, 0.27, 0.30, 0.25, 0.15, 0.08, 0.05];
const procBlueBHi = [0.20, 0.18, 0.16, 0.16, 0.22, 0.28, 0.15, 0.20, 0.45, 0.70, 1.00, 2.20, 2.50, 2.80, 5.00, 3.20, 3.30, 4.20, 3.10, 1.50, 0.80, 1.90, 0.70, 0.08, 0.10, 0.17, 0.23, 0.27, 0.29, 0.25, 0.16, 0.09, 0.06];
const procBlueCHi = [0.10, 0.09, 0.08, 0.08, 0.15, 0.20, 0.10, 0.30, 0.55, 0.65, 0.90, 2.00, 2.40, 2.90, 4.20, 3.40, 3.60, 3.90, 3.00, 1.30, 0.90, 1.60, 0.80, 0.10, 0.10, 0.15, 0.20, 0.24, 0.26, 0.22, 0.14, 0.08, 0.05];
const procDkGreenHi = [0.22, 0.20, 0.18, 0.18, 0.26, 0.32, 0.20, 0.07, 0.18, 0.40, 0.80, 2.70, 2.60, 3.00, 3.40, 3.60, 3.50, 3.70, 3.00, 1.60, 1.40, 1.45, 0.70, 0.10, 0.12, 0.15, 0.18, 0.21, 0.23, 0.20, 0.12, 0.07, 0.05];
const procDkGreen2Hi = [0.20, 0.19, 0.17, 0.17, 0.25, 0.31, 0.19, 0.06, 0.17, 0.40, 0.80, 2.55, 2.50, 2.95, 3.30, 3.50, 3.40, 3.55, 2.90, 1.55, 1.38, 1.45, 0.70, 0.10, 0.11, 0.14, 0.17, 0.20, 0.22, 0.19, 0.12, 0.07, 0.05];
const procRedHi = [0.25, 0.23, 0.21, 0.20, 0.28, 0.35, 0.22, 0.06, 0.15, 0.35, 0.70, 1.60, 1.90, 2.60, 3.30, 3.60, 3.70, 3.80, 3.10, 1.70, 1.50, 1.55, 0.75, 0.12, 0.15, 0.22, 0.30, 0.36, 0.40, 0.35, 0.22, 0.12, 0.08];
const procRed2Hi = [0.22, 0.21, 0.19, 0.18, 0.26, 0.33, 0.20, 0.07, 0.16, 0.36, 0.72, 2.00, 2.20, 2.75, 3.20, 3.45, 3.50, 3.60, 2.95, 1.60, 1.40, 1.45, 0.70, 0.11, 0.14, 0.20, 0.27, 0.32, 0.36, 0.31, 0.20, 0.11, 0.07];
const procGreenHi = [0.18, 0.17, 0.15, 0.15, 0.24, 0.30, 0.18, 0.06, 0.16, 0.38, 0.75, 2.50, 2.45, 2.90, 3.30, 3.50, 3.45, 3.60, 2.95, 1.55, 1.35, 1.50, 0.68, 0.09, 0.11, 0.14, 0.17, 0.20, 0.22, 0.19, 0.12, 0.07, 0.05];
const procGrayHi = [0.17, 0.16, 0.15, 0.15, 0.23, 0.29, 0.17, 0.06, 0.17, 0.40, 0.78, 2.60, 2.50, 2.95, 3.35, 3.55, 3.45, 3.65, 2.95, 1.55, 1.40, 1.45, 0.70, 0.09, 0.11, 0.14, 0.17, 0.20, 0.22, 0.19, 0.12, 0.07, 0.05];
const procPinkHi = [0.20, 0.19, 0.17, 0.17, 0.25, 0.31, 0.19, 0.07, 0.15, 0.38, 0.90, 3.19, 2.70, 2.90, 3.20, 3.40, 3.35, 3.50, 2.85, 1.50, 1.30, 1.40, 0.65, 0.10, 0.12, 0.16, 0.20, 0.24, 0.27, 0.23, 0.14, 0.08, 0.06];
const procYellowHi = [0.16, 0.15, 0.14, 0.14, 0.21, 0.27, 0.16, 0.06, 0.15, 0.34, 0.70, 2.20, 2.20, 2.60, 2.90, 3.00, 3.00, 3.10, 2.60, 1.40, 1.25, 1.30, 0.62, 0.08, 0.10, 0.13, 0.16, 0.19, 0.21, 0.18, 0.11, 0.07, 0.05];
const procYellow2Hi = [0.15, 0.14, 0.13, 0.13, 0.20, 0.26, 0.15, 0.06, 0.15, 0.34, 0.72, 2.30, 2.30, 2.70, 3.00, 3.15, 3.10, 3.25, 2.70, 1.45, 1.28, 1.35, 0.64, 0.09, 0.10, 0.13, 0.16, 0.19, 0.21, 0.18, 0.11, 0.07, 0.05];
const procBlackHi = [0.19, 0.18, 0.16, 0.16, 0.24, 0.30, 0.18, 0.06, 0.17, 0.40, 0.80, 2.65, 2.55, 3.00, 3.45, 3.65, 3.55, 3.75, 3.05, 1.60, 1.40, 1.50, 0.72, 0.10, 0.11, 0.14, 0.17, 0.20, 0.22, 0.19, 0.12, 0.07, 0.05];
const procSlateHi = [0.15, 0.14, 0.13, 0.13, 0.21, 0.27, 0.15, 0.07, 0.18, 0.40, 0.78, 2.40, 2.40, 2.80, 3.15, 3.35, 3.30, 3.40, 2.80, 1.50, 1.30, 1.40, 0.68, 0.10, 0.11, 0.14, 0.17, 0.20, 0.22, 0.19, 0.12, 0.07, 0.05];
const procLavHi = [0.14, 0.13, 0.12, 0.12, 0.19, 0.25, 0.14, 0.08, 0.20, 0.40, 0.70, 1.40, 1.70, 2.10, 2.35, 2.45, 2.46, 2.40, 2.10, 1.40, 1.00, 0.90, 0.55, 0.12, 0.12, 0.15, 0.18, 0.21, 0.23, 0.20, 0.13, 0.08, 0.06];

// series tables: conc = index into concLabels; first entries end up on top
const rawSeries = [
  { conc: 0, lo: rawBlueALo, hi: rawBlueAHi, w: 1.6 },
  { conc: 0, lo: rawBlueBLo, hi: rawBlueBHi, w: 1.3 },
  { conc: 0, lo: rawBlueCLo, hi: rawBlueCHi, w: 1.3 },
  { conc: 6, lo: rawOliveLo, hi: rawOliveHi, color: '#5b6b2a' },
  { conc: 3, lo: rawSlateLo, hi: rawSlateHi },
  { conc: 2, lo: rawGreenLo, hi: rawGreenHi },
  { conc: 3, lo: rawGrayLo, hi: rawGrayHi },
  { conc: 5, lo: rawGold2Lo, hi: rawGold2Hi },
  { conc: 5, lo: rawYellowLo, hi: rawYellowHi },
  { conc: 2, lo: rawLime2Lo, hi: rawLime2Hi },
  { conc: 6, lo: rawDkGreenLo, hi: rawDkGreenHi },
  { conc: 7, lo: rawLavLo, hi: rawLavHi },
  { conc: 1, lo: rawCoralLo, hi: rawCoralHi },
  { conc: 3, lo: rawBlackLo, hi: rawBlackHi, color: '#262630' },
  { conc: 1, lo: rawRedLo, hi: rawRedHi },
  { conc: 7, lo: rawLav2Lo, hi: rawLav2Hi },
  { conc: 4, lo: rawPinkLo, hi: rawPinkHi },
  { conc: 4, lo: rawRose2Lo, hi: rawRose2Hi },
  { conc: 2, lo: rawGreen2Lo, hi: rawGreen2Hi },
  { conc: 1, lo: rawRedBottomLo, hi: rawRedBottomHi },
  { conc: 4, lo: rawPinkTopLo, hi: rawPinkTopHi },
  { conc: 7, lo: rawLavTopLo, hi: rawLavTopHi }
];
const procSeries = [
  { conc: 0, lo: procBlueALo, hi: procBlueAHi, w: 1.8 },
  { conc: 0, lo: procBlueBLo, hi: procBlueBHi, w: 1.6 },
  { conc: 0, lo: procBlueCLo, hi: procBlueCHi, w: 1.1 },
  { conc: 7, lo: procSlateLo, hi: procSlateHi, w: 1.8, color: 'rgba(120,120,205,0.9)' },
  { conc: 6, lo: procDkGreenLo, hi: procDkGreenHi },
  { conc: 1, lo: procRedLo, hi: procRedHi },
  { conc: 6, lo: procDkGreen2Lo, hi: procDkGreen2Hi },
  { conc: 2, lo: procGreenLo, hi: procGreenHi },
  { conc: 3, lo: procGrayLo, hi: procGrayHi },
  { conc: 1, lo: procRed2Lo, hi: procRed2Hi },
  { conc: 4, lo: procPinkLo, hi: procPinkHi },
  { conc: 5, lo: procYellowLo, hi: procYellowHi },
  { conc: 5, lo: procYellow2Lo, hi: procYellow2Hi },
  { conc: 3, lo: procBlackLo, hi: procBlackHi, color: '#1e1e24' },
  { conc: 7, lo: procLavLo, hi: procLavHi }
];

const tickFont = { family: '"Liberation Sans", Arial, Helvetica, sans-serif', size: 10.5 };
const tickColor = '#333';

// MATLAB-style axes: plain axis lines with short inward ticks
const axisLines = {
  id: 'axisLines',
  beforeDatasetsDraw(chart, args, opts) {
    const { ctx, chartArea: a, scales } = chart;
    ctx.save();
    ctx.strokeStyle = '#8c8c8c';
    ctx.lineWidth = 1;
    ctx.beginPath();
    const yb = Math.round(a.bottom) + 0.5;
    ctx.moveTo(a.left, yb);
    ctx.lineTo(a.right, yb);
    opts.xTicks.forEach(v => {
      const x = Math.round(scales.x.getPixelForValue(v)) + 0.5;
      ctx.moveTo(x, yb);
      ctx.lineTo(x, yb - 4);
    });
    if (opts.yTicks) {
      const xl = Math.round(a.left) + 0.5;
      ctx.moveTo(xl, Math.round(a.top));
      ctx.lineTo(xl, yb);
      opts.yTicks.forEach(v => {
        const y = Math.round(scales.y.getPixelForValue(v)) + 0.5;
        ctx.moveTo(xl, y);
        ctx.lineTo(xl + 4, y);
      });
    }
    ctx.stroke();
    ctx.restore();
  }
};

function spectrumChart(id, shift, series, part, cfg) {
  const datasets = series.map(s => ({
    data: shift.map((x, i) => ({ x: x, y: s[part][i] })),
    borderColor: s.color || concColors[s.conc],
    borderWidth: s.w || concWidths[s.conc],
    pointRadius: 0,
    fill: false,
    cubicInterpolationMode: 'monotone'
  }));
  const showY = !!cfg.yTicks;
  return new Chart(document.getElementById(id), {
    type: 'line',
    data: { datasets },
    options: {
      responsive: false,
      animation: false,
      devicePixelRatio: 1,
      events: [],
      layout: { padding: cfg.pad },
      plugins: {
        legend: { display: false },
        tooltip: { enabled: false },
        axisLines: { xTicks: cfg.xTicks, yTicks: cfg.yTicks }
      },
      scales: {
        x: {
          type: 'linear', min: cfg.x[0], max: cfg.x[1],
          grid: { display: false, drawTicks: false }, border: { display: false },
          afterBuildTicks: sc => { sc.ticks = cfg.xTicks.map(v => ({ value: v })); },
          afterFit: sc => { sc.height = cfg.xAxisH; },
          ticks: { font: tickFont, color: tickColor, padding: 6, maxRotation: 0, autoSkip: false,
                   callback: v => String(v) }
        },
        y: {
          type: 'linear', min: cfg.y[0], max: cfg.y[1], display: showY,
          grid: { display: false, drawTicks: false }, border: { display: false },
          afterBuildTicks: sc => { sc.ticks = (cfg.yTicks || []).map(v => ({ value: v })); },
          afterFit: sc => { sc.width = cfg.yAxisW || 0; },
          ticks: { font: tickFont, color: tickColor, padding: 4, autoSkip: false,
                   callback: v => String(v) }
        }
      }
    },
    plugins: [axisLines]
  });
}

// A: raw spectra
spectrumChart('rawLow', shiftA1, rawSeries, 'lo', {
  x: [230, 2000], y: [-0.1855, 2.226], xTicks: lowXTicks, yTicks: rawYTicks,
  pad: { top: 26.7, left: 0, right: 13.3, bottom: 0 }, xAxisH: 23.3, yAxisW: 45.7
});
spectrumChart('rawHigh', shiftA2, rawSeries, 'hi', {
  x: [2500, 3574], y: [-0.1855, 2.226], xTicks: highXTicks,
  pad: { top: 26.7, left: 12.3, right: 0, bottom: 0 }, xAxisH: 23.3
});

// B: pre-processed spectra
spectrumChart('procLow', shiftB1, procSeries, 'lo', {
  x: [230, 2000], y: [-0.567, 6.535], xTicks: lowXTicks, yTicks: procYTicks,
  pad: { top: 28, left: 0, right: 13.3, bottom: 0 }, xAxisH: 21.7, yAxisW: 45.7
});
spectrumChart('procHigh', shiftB2, procSeries, 'hi', {
  x: [2500, 3574], y: [-0.567, 6.535], xTicks: highXTicks,
  pad: { top: 28, left: 12.3, right: 0, bottom: 0 }, xAxisH: 21.7
});

// legends
function buildLegend(id, firstY, step) {
  const box = document.getElementById(id);
  concLabels.forEach((label, i) => {
    const cy = firstY + i * step;
    const ln = document.createElement('div');
    ln.className = 'ln';
    const h = concWidths[i];
    ln.style.top = (cy - h / 2) + 'px';
    ln.style.height = h + 'px';
    ln.style.background = concColors[i];
    const tx = document.createElement('div');
    tx.className = 'tx';
    tx.style.top = (cy - 6) + 'px';
    tx.textContent = label;
    box.appendChild(ln);
    box.appendChild(tx);
  });
}
buildLegend('legendA', 6.6, 13.8);
buildLegend('legendB', 7.3, 13.9);
</script>
</body>
</html>
